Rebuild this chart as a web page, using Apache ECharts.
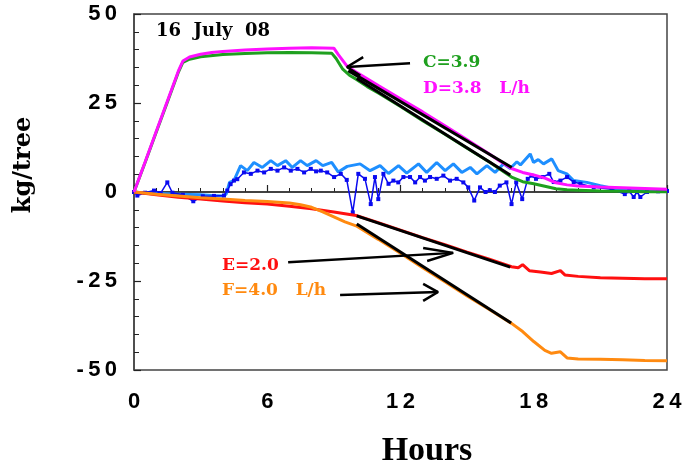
<!DOCTYPE html>
<html><head><meta charset="utf-8">
<script src="https://cdn.jsdelivr.net/npm/echarts@6/dist/echarts.min.js"></script>
<style>html,body{margin:0;padding:0;background:#fff}#c{width:686px;height:470px}</style>
</head><body><div id="c"></div>
<script>
// ---- data (hours, kg/tree) ----
const xTicks = [0, 6, 12, 18, 24];
const yTicks = [-50, -25, 0, 25, 50];

const curveD = [[0,0],[0.5,8.4],[1,17],[1.5,25.5],[2,34],[2.2,36.8],[2.5,37.9],[3,38.7],[3.5,39.2],[4,39.5],[5,39.9],[6,40.2],[7,40.4],[8,40.5],[9,40.4],[9.2,38.6],[9.6,35.3],[10,33.7],[11,29.9],[12,26.2],[13,22.5],[14,18.6],[15,14.7],[16,10.7],[16.5,8.6],[17,6.6],[17.5,5.5],[18,4.8],[18.5,3.9],[19,2.6],[19.5,2.0],[20,1.7],[21,1.4],[22,1.2],[23,1.0],[24,0.8]];
const curveC = [[0,0],[0.5,8.3],[1,16.8],[1.5,25.2],[2,33.7],[2.2,36.4],[2.5,37.3],[3,38.0],[4,38.6],[5,38.9],[6,39.1],[7,39.2],[8,39.1],[8.9,39.0],[9.1,37.5],[9.4,34.5],[9.7,32.8],[10,31.7],[10.5,29.6],[11,27.8],[12,24.0],[13,20.0],[14,16.2],[15,12.3],[16,8.4],[16.5,6.3],[17,4.2],[17.5,2.9],[18,2.3],[18.5,1.6],[19,0.9],[19.5,0.6],[20,0.5],[21,0.3],[22,0.2],[23,0.1],[24,0.1]];
const curveE = [[0,0],[1,-0.8],[2,-1.5],[3,-2.0],[4,-2.5],[5,-3.0],[6,-3.4],[7,-4.0],[8,-4.7],[9,-5.6],[10,-6.6],[11,-8.6],[12,-10.7],[13,-12.8],[14,-14.8],[15,-16.9],[16,-18.9],[17,-21.0],[17.3,-21.3],[17.5,-20.4],[17.8,-22.1],[18.3,-22.5],[18.8,-22.9],[19.2,-22.1],[19.4,-23.3],[20,-23.7],[21,-24.1],[22,-24.2],[23,-24.4],[24,-24.4]];
const curveF = [[0,0],[1,-0.6],[2,-1.1],[3,-1.6],[4,-2.0],[5,-2.4],[6,-2.7],[7,-3.1],[7.5,-3.6],[8,-4.3],[8.5,-5.6],[9,-7.0],[9.5,-8.4],[10,-9.5],[11,-13.3],[12,-17.2],[13,-21.3],[14,-25.2],[15,-29.2],[16,-33.0],[17,-36.9],[17.5,-39.2],[18,-42.0],[18.5,-44.5],[18.8,-45.3],[19.2,-44.9],[19.5,-46.6],[20,-46.9],[21,-47.0],[22,-47.1],[23,-47.3],[24,-47.4]];
const curveLightBlue = [[0,0],[0.5,-0.3],[1,-0.4],[1.5,-0.5],[2,-0.6],[2.5,-0.7],[3,-0.8],[3.5,-1.0],[4,-1.1],[4.15,-0.6],[4.3,2.7],[4.5,3.2],[4.8,7.4],[5.1,6.0],[5.4,8.3],[5.78,6.9],[6.16,8.8],[6.46,7.4],[6.83,8.8],[7.13,6.9],[7.5,8.8],[7.8,7.4],[8.2,8.8],[8.5,7.4],[8.9,8.3],[9.2,5.6],[9.6,7.2],[10.18,7.9],[10.63,6.0],[11.08,7.4],[11.46,5.2],[11.91,7.4],[12.28,5.3],[12.81,7.9],[13.18,5.5],[13.63,8.3],[14.01,6.0],[14.38,7.9],[14.76,5.5],[15.14,6.9],[15.44,5.1],[15.89,7.4],[16.26,5.5],[16.64,7.9],[16.94,6.6],[17.24,8.5],[17.4,7.6],[17.84,10.7],[17.99,8.3],[18.2,9.1],[18.44,7.9],[18.81,9.3],[19.1,6.0],[19.49,5.1],[19.79,3.2],[20.39,2.7],[21,1.8],[21.74,0.8],[22.5,0.6],[23.2,0.4],[24,0.3]];
const curveDarkBlue = [[0,0],[0.15,-1.0],[0.5,-0.2],[0.9,0.4],[1.2,-0.3],[1.5,2.7],[1.73,-0.2],[2.2,-0.8],[2.67,-2.6],[3.1,-1.2],[3.6,-1.1],[4.05,-1.0],[4.2,0.4],[4.35,2.2],[4.5,3.2],[4.65,3.6],[4.95,5.5],[5.26,5.1],[5.56,6.0],[5.86,5.5],[6.16,6.5],[6.46,6.0],[6.76,6.9],[7.06,6.0],[7.36,6.5],[7.66,5.5],[7.96,6.5],[8.2,5.8],[8.41,6.0],[8.7,5.5],[9.01,4.2],[9.31,5.1],[9.58,3.4],[9.85,-5.7],[10.1,5.1],[10.4,3.7],[10.66,-3.4],[10.85,4.2],[11.0,-2.0],[11.23,5.1],[11.46,2.3],[11.68,3.2],[11.9,2.7],[12.13,4.2],[12.43,4.2],[12.66,2.7],[12.88,4.2],[13.1,3.2],[13.33,4.2],[13.63,3.7],[13.93,4.6],[14.23,3.2],[14.53,3.7],[14.83,2.7],[15.05,1.3],[15.32,-2.4],[15.58,1.3],[15.83,0],[16.02,0.5],[16.25,0],[16.47,1.8],[16.77,2.7],[17.0,-3.4],[17.21,2.7],[17.48,-2.0],[17.73,3.7],[17.9,4.6],[18.1,3.7],[18.4,4.2],[18.7,5.1],[18.9,2.8],[19.2,3.2],[19.5,4.2],[19.8,2.8],[20.1,2.3],[20.7,1.3],[21.5,0.8],[22.1,-0.6],[22.3,0.2],[22.5,-1.4],[22.65,0],[22.8,-1.4],[23.1,0],[23.6,0.2],[24,0.3]];

// linear fits
const fitC = [[10.03,31.9],[16.94,4.8]];
const fitD = [[9.65,34.1],[17.01,6.9]];
const fitE = [[10.03,-6.7],[16.94,-21.1]];
const fitF = [[10.03,-9.0],[16.98,-36.8]];

// annotation arrows (shaft, head)
const arrowCD = [[12.43,36.2],[9.59,35.1]];
const headCD = [[10.32,37.9],[9.59,35.1],[10.19,32.7]];
const arrowE = [[6.94,-19.7],[14.37,-17.1]];
const headE = [[13.02,-15.7],[14.37,-17.1],[13.2,-19.4]];
const arrowF = [[9.28,-28.9],[13.69,-28.1]];
const headF = [[13.02,-25.8],[13.69,-28.1],[13.02,-30.6]];

const labelDate = '16  July  08';
const labelC = 'C=3.9';
const labelD = 'D=3.8   L/h';
const labelE = 'E=2.0';
const labelF = 'F=4.0   L/h';
const yName = 'kg/tree';
const xName = 'Hours';

// ---- chart ----
const chart = echarts.init(document.getElementById('c'));
function ln(data, color, width, z, extra) {
  return Object.assign({
    type: 'line', data: data, showSymbol: false, symbol: 'none', z: z,
    lineStyle: { color: color, width: width }, itemStyle: { color: color },
    silent: true, animation: false
  }, extra || {});
}
const spaced = s => String(s).split('').join('\u2009');
chart.setOption({
  animation: false,
  grid: { left: 134, right: 19, top: 14, bottom: 100, show: true, borderColor: '#444', borderWidth: 1.5 },
  xAxis: {
    type: 'value', min: xTicks[0], max: xTicks[xTicks.length - 1], interval: 6,
    axisLine: { lineStyle: { color: '#444', width: 1.5 } },
    axisTick: { inside: true, length: 7, lineStyle: { color: '#222', width: 1.2 } },
    minorTick: { show: true, splitNumber: 6, length: 4, lineStyle: { color: '#222', width: 1 } },
    splitLine: { show: false },
    axisLabel: { margin: 21, fontFamily: 'Liberation Sans', fontWeight: 'bold', fontSize: 22, color: '#000', formatter: v => spaced(v) }
  },
  yAxis: {
    type: 'value', min: yTicks[0], max: yTicks[yTicks.length - 1], interval: 25,
    axisLine: { lineStyle: { color: '#444', width: 1.5 } },
    axisTick: { inside: true, length: 7, lineStyle: { color: '#222', width: 1.2 } },
    minorTick: { show: true, splitNumber: 5, length: 5, lineStyle: { color: '#222', width: 1 } },
    splitLine: { show: false },
    axisLabel: { margin: 17, fontFamily: 'Liberation Sans', fontWeight: 'bold', fontSize: 22, color: '#000', formatter: v => spaced(v) }
  },
  series: [
    ln([[xTicks[0],0],[xTicks[4],0]], '#333', 1.5, 1),
    ln(curveLightBlue, '#1e8fff', 3, 2),
    ln(curveDarkBlue, '#0a0af0', 1.5, 3, { showSymbol: true, symbol: 'rect', symbolSize: 4 }),
    ln(curveE, '#ff1010', 3, 4),
    ln(curveF, '#ff8a10', 3, 5),
    ln(curveC, '#1fa01f', 3, 6),
    ln(curveD, '#ff10ff', 3, 7),
    ln(fitC, '#000', 3, 10), ln(fitD, '#000', 3, 10), ln(fitE, '#000', 3, 10), ln(fitF, '#000', 3, 10),
    ln(arrowCD, '#000', 2.5, 10), ln(headCD, '#000', 2.5, 10),
    ln(arrowE, '#000', 2.5, 10), ln(headE, '#000', 2.5, 10),
    ln(arrowF, '#000', 2.5, 10), ln(headF, '#000', 2.5, 10)
  ],
  graphic: [
    { type: 'text', x: 156, y: 31, style: { text: labelDate, fontFamily: 'DejaVu Serif', fontWeight: 'bold', fontSize: 18, fill: '#000', verticalAlign: 'middle' } },
    { type: 'text', x: 423, y: 63, style: { text: labelC, fontFamily: 'DejaVu Serif', fontWeight: 'bold', fontSize: 17, fill: '#1fa01f', verticalAlign: 'middle' } },
    { type: 'text', x: 423, y: 89, style: { text: labelD, fontFamily: 'DejaVu Serif', fontWeight: 'bold', fontSize: 17, fill: '#ff10ff', verticalAlign: 'middle' } },
    { type: 'text', x: 222, y: 266, style: { text: labelE, fontFamily: 'DejaVu Serif', fontWeight: 'bold', fontSize: 17, fill: '#ff1010', verticalAlign: 'middle' } },
    { type: 'text', x: 222, y: 291, style: { text: labelF, fontFamily: 'DejaVu Serif', fontWeight: 'bold', fontSize: 17, fill: '#ff8a10', verticalAlign: 'middle' } },
    { type: 'text', x: 24, y: 165, rotation: Math.PI / 2, style: { text: yName, fontFamily: 'DejaVu Serif', fontWeight: 'bold', fontSize: 24, fill: '#000', align: 'center', verticalAlign: 'middle' } },
    { type: 'text', x: 427, y: 451, style: { text: xName, fontFamily: 'Liberation Serif', fontWeight: 'bold', fontSize: 34, fill: '#000', align: 'center', verticalAlign: 'middle' } }
  ]
});
</script></body></html>
